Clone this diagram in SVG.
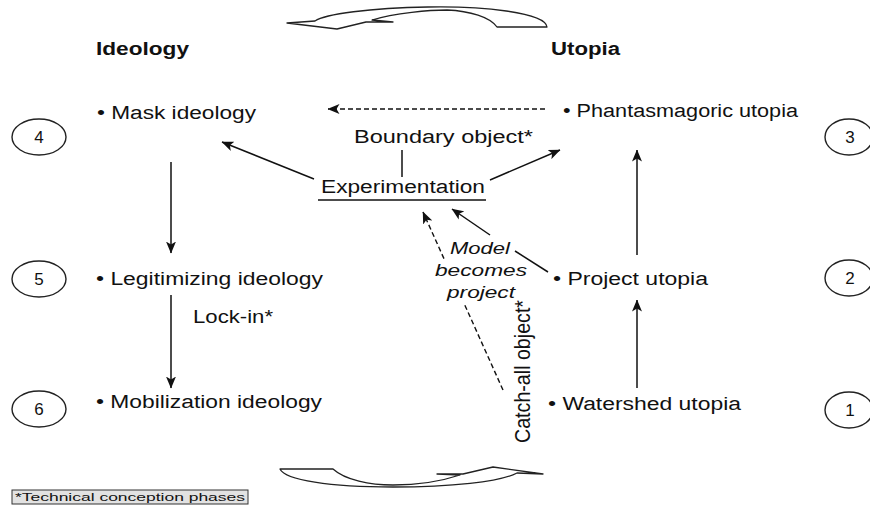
<svg xmlns="http://www.w3.org/2000/svg" width="870" height="514" viewBox="0 0 870 514">
<defs>
<style>
text{font-family:"Liberation Sans",Arial,sans-serif;fill:#111;}
.t{font-size:18px;}
.h{font-size:18px;font-weight:bold;}
.it{font-size:17px;font-style:italic;}
.num{font-size:17px;}
.ell{fill:#fff;stroke:#222;stroke-width:1.4;}
.ln{stroke:#111;stroke-width:1.5;fill:none;}
.dash{stroke:#111;stroke-width:1.4;fill:none;stroke-dasharray:5,3;}
.curve{fill:#fff;stroke:#222;stroke-width:1.3;stroke-linejoin:round;}
</style>
<marker id="ah" markerWidth="12" markerHeight="10" refX="11.5" refY="5" orient="auto" markerUnits="userSpaceOnUse">
<path d="M0,0 L12,5 L0,10 L3,5 z" fill="#111"/>
</marker>
</defs>
<rect width="870" height="514" fill="#fff"/>

<g id="cycle-top">
<path class="curve" d="M547,27 C545,12 480,6 428,7 C370,8 325,14 315,21 L287,23 L337,29 L366,22 L393,22 L372,20 C395,13 430,10 447,10 C470,11 490,17 497,27 Z"/>
</g>
<g id="cycle-bottom">
<path class="curve" d="M280,469 L333,469 C345,480 370,485 393,485 C420,485 445,480 460,475 L437,474 L463,474 L493,467 L543,474 L517,473 C500,482 450,487 393,487 C330,487 285,480 280,469 Z"/>
</g>

<g id="connectors">
<line class="dash" x1="545" y1="109" x2="328" y2="109" marker-end="url(#ah)"/>
<line class="ln" x1="314" y1="179" x2="222" y2="142" marker-end="url(#ah)"/>
<line class="ln" x1="490" y1="180" x2="560" y2="150" marker-end="url(#ah)"/>
<line class="ln" x1="402" y1="150" x2="402" y2="177"/>
<line class="ln" x1="171" y1="162" x2="171" y2="253" marker-end="url(#ah)"/>
<line class="ln" x1="171" y1="295" x2="171" y2="388" marker-end="url(#ah)"/>
<line class="ln" x1="637" y1="388" x2="637" y2="300" marker-end="url(#ah)"/>
<line class="ln" x1="637" y1="255" x2="637" y2="150" marker-end="url(#ah)"/>
<line class="ln" x1="548" y1="272" x2="515" y2="251"/>
<line class="ln" x1="490" y1="235" x2="452" y2="209" marker-end="url(#ah)"/>
<line class="dash" x1="503" y1="390" x2="423" y2="212" marker-end="url(#ah)"/>
</g>

<g id="header-ideology"><text class="h" x="96" y="55" textLength="93" lengthAdjust="spacingAndGlyphs">Ideology</text></g>
<g id="header-utopia"><text class="h" x="551" y="55" textLength="69" lengthAdjust="spacingAndGlyphs">Utopia</text></g>

<g id="mask-ideology"><text class="t" x="97" y="119" textLength="159" lengthAdjust="spacingAndGlyphs">• Mask ideology</text></g>
<g id="legitimizing-ideology"><text class="t" x="96" y="285" textLength="227" lengthAdjust="spacingAndGlyphs">• Legitimizing ideology</text></g>
<g id="mobilization-ideology"><text class="t" x="96" y="408" textLength="226" lengthAdjust="spacingAndGlyphs">• Mobilization ideology</text></g>
<g id="lock-in"><text class="t" x="193" y="323" textLength="80" lengthAdjust="spacingAndGlyphs">Lock-in*</text></g>

<g id="phantasmagoric-utopia"><text class="t" x="563" y="117" textLength="235" lengthAdjust="spacingAndGlyphs">• Phantasmagoric utopia</text></g>
<g id="project-utopia"><text class="t" x="553" y="285" textLength="155" lengthAdjust="spacingAndGlyphs">• Project utopia</text></g>
<g id="watershed-utopia"><text class="t" x="548" y="410" textLength="193" lengthAdjust="spacingAndGlyphs">• Watershed utopia</text></g>

<g id="boundary-object"><text class="t" x="354" y="143" textLength="179" lengthAdjust="spacingAndGlyphs">Boundary object*</text></g>
<g id="experimentation">
<text class="t" x="321" y="193" textLength="164" lengthAdjust="spacingAndGlyphs">Experimentation</text>
<line class="ln" x1="318" y1="200" x2="486" y2="200"/>
</g>

<g id="model-becomes-project">
<rect x="433" y="261" width="96" height="20" fill="#fff"/>
<rect x="445" y="283" width="72" height="20" fill="#fff"/>
<text class="it" x="450" y="254" textLength="60" lengthAdjust="spacingAndGlyphs">Model</text>
<text class="it" x="435" y="276" textLength="92" lengthAdjust="spacingAndGlyphs">becomes</text>
<text class="it" x="447" y="298" textLength="68" lengthAdjust="spacingAndGlyphs">project</text>
</g>

<g id="catch-all-object">
<text class="t" transform="translate(530,443) rotate(-90) scale(1,1.2)" x="0" y="0" textLength="143" lengthAdjust="spacingAndGlyphs">Catch-all object*</text>
</g>

<g id="phase-4"><ellipse class="ell" cx="39" cy="137" rx="27" ry="18"/><text class="num" x="39" y="143" text-anchor="middle">4</text></g>
<g id="phase-5"><ellipse class="ell" cx="39" cy="279" rx="27" ry="18"/><text class="num" x="39" y="285" text-anchor="middle">5</text></g>
<g id="phase-6"><ellipse class="ell" cx="39" cy="409" rx="27" ry="18"/><text class="num" x="39" y="415" text-anchor="middle">6</text></g>
<g id="phase-3"><ellipse class="ell" cx="849" cy="137" rx="24" ry="18"/><text class="num" x="850" y="143" text-anchor="middle">3</text></g>
<g id="phase-2"><ellipse class="ell" cx="849" cy="278" rx="24" ry="18"/><text class="num" x="850" y="284" text-anchor="middle">2</text></g>
<g id="phase-1"><ellipse class="ell" cx="849" cy="410" rx="24" ry="18"/><text class="num" x="850" y="416" text-anchor="middle">1</text></g>

<g id="footnote">
<rect x="12" y="490" width="236" height="14" fill="#e2e2e2" stroke="#333" stroke-width="1"/>
<text x="15" y="501" font-size="11.5" textLength="230" lengthAdjust="spacingAndGlyphs">*Technical conception phases</text>
</g>
</svg>
